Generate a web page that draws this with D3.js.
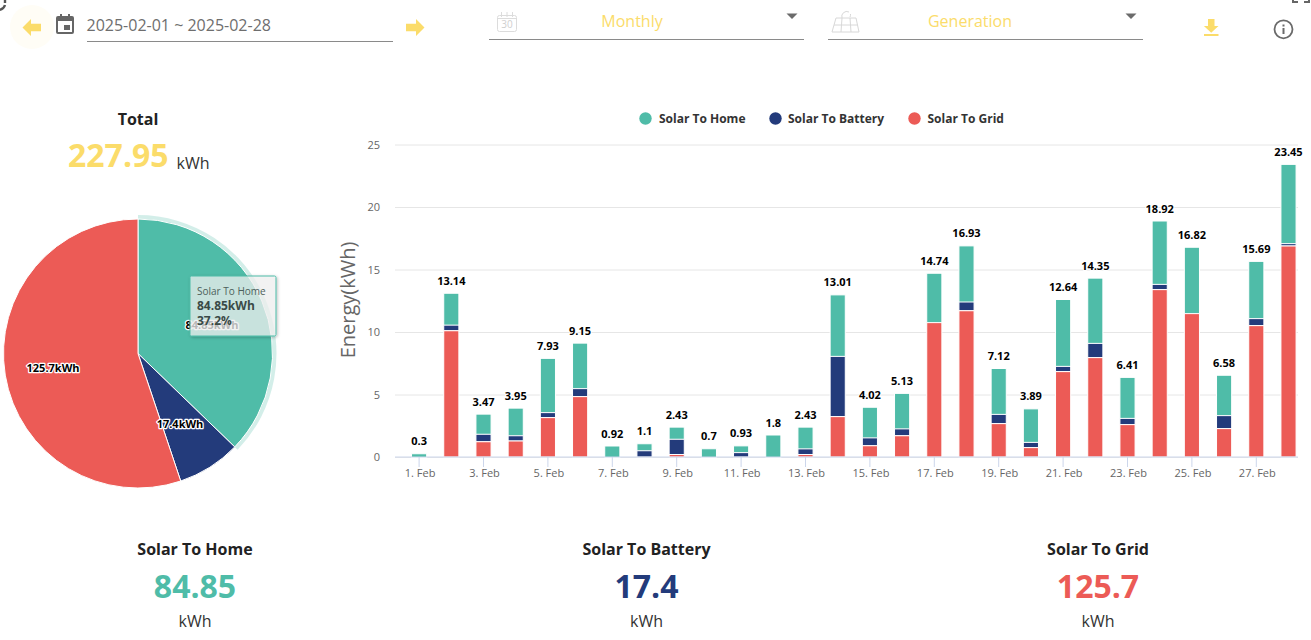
<!DOCTYPE html>
<html><head><meta charset="utf-8">
<script src="https://cdn.jsdelivr.net/npm/d3@7"></script>
<style>html,body{margin:0;padding:0;background:#fff;overflow:hidden}svg{display:block}text{font-family:"Open Sans",sans-serif}</style>
</head><body><svg id="c" width="1311" height="640"></svg>
<script>
const seriesNames = ["Solar To Home","Solar To Battery","Solar To Grid"];
const seriesColors = ["#4fbca8","#233b7b","#ec5b56"];
const seriesTotals = [84.85,17.4,125.7];
const days = d3.range(1,29);
const home = [0.3,2.59,1.65,2.25,4.38,3.68,0.92,0.6,1.01,0.7,0.58,1.8,1.78,4.96,2.49,2.88,3.99,4.53,3.71,2.72,5.39,5.26,3.32,5.11,5.35,3.27,4.62,6.38];
const battery = [0,0.45,0.6,0.42,0.4,0.64,0,0.5,1.22,0,0.35,0,0.45,4.82,0.63,0.55,0,0.7,0.74,0.42,0.42,1.14,0.5,0.42,0,1.04,0.56,0.19];
const grid = [0,10.1,1.22,1.28,3.15,4.83,0,0,0.2,0,0,0,0.2,3.23,0.9,1.7,10.75,11.7,2.67,0.75,6.83,7.95,2.59,13.39,11.47,2.27,10.51,16.88];
const totals = ["0.3","13.14","3.47","3.95","7.93","9.15","0.92","1.1","2.43","0.7","0.93","1.8","2.43","13.01","4.02","5.13","14.74","16.93","7.12","3.89","12.64","14.35","6.41","18.92","16.82","6.58","15.69","23.45"];
const yTicks = [0,5,10,15,20,25];
const xTicks = [1,3,5,7,9,11,13,15,17,19,21,23,25,27];
const YEL = "#fbdc6a";

const svg = d3.select("#c");

/* ---------- top bar ---------- */
const bar = svg.append("g");
bar.append("circle").attr("cx",32).attr("cy",27).attr("r",22).attr("fill","#fffdf6");
const arrow = (x,y,dir,c)=>bar.append("path")
  .attr("transform",`translate(${x},${y}) scale(${dir},1)`)
  .attr("d","M-9.5,0 L-1,-8.5 L-1,-3.7 L9,-3.7 L9,3.7 L-1,3.7 L-1,8.5 Z").attr("fill",c);
arrow(32,27.5,1,YEL); arrow(415,27.5,-1,YEL);
// calendar icon
bar.append("path").attr("fill","#666").attr("fill-rule","evenodd")
  .attr("d","M60,16 h2 v-2 h2 v2 h6 v-2 h2 v2 h2 a2,2 0 0 1 2,2 v14 a2,2 0 0 1 -2,2 h-14 a2,2 0 0 1 -2,-2 v-14 a2,2 0 0 1 2,-2 Z M60,21 v11 h14 v-11 Z M66,25 h6 v5 h-6 Z")
  .attr("transform","translate(-2,0)");
bar.append("text").attr("x",86.5).attr("y",31).attr("font-size",16).attr("fill","#6e6e6e").text("2025-02-01 ~ 2025-02-28");
const rule=(x1,x2,y)=>bar.append("line").attr("x1",x1).attr("x2",x2).attr("y1",y).attr("y2",y).attr("stroke","#8a8a8a").attr("stroke-width",1);
rule(87,393,41.5); rule(489,804,39.5); rule(828,1143,39.5);
bar.append("text").attr("x",632).attr("y",27).attr("text-anchor","middle").attr("font-size",16).attr("fill",YEL).text("Monthly");
bar.append("text").attr("x",970).attr("y",27).attr("text-anchor","middle").attr("font-size",16).attr("fill",YEL).text("Generation");
[[792,16],[1131,16]].forEach(([x,y])=>bar.append("path").attr("d",`M${x-5.5},${y-2.5} h11 l-5.5,5.5 Z`).attr("fill","#6b6b6b"));
// month calendar icon
const cal=bar.append("g").attr("fill","none").attr("stroke","#dcdcdc").attr("stroke-width",1);
cal.append("rect").attr("x",497.5).attr("y",15.5).attr("width",19).attr("height",16).attr("rx",2);
cal.append("path").attr("d","M498,18.5 H516 M501.5,12 v5 M507,12 v5 M512.5,12 v5");
bar.append("text").attr("x",507).attr("y",28).attr("text-anchor","middle").attr("font-size",10).attr("fill","#cfcfcf").text("30");
// solar panel icon
const pan=bar.append("g").attr("fill","none").attr("stroke","#d8d8d8").attr("stroke-width",1);
pan.append("path").attr("d","M836,18 L856,18 L859,32 L832,32 Z M834,25 H858 M842,18 L841,32 M850,18 L851,32 M842,18 a5,5 0 0 1 7,-6 M850,17 a5,5 0 0 0 0.5,-3");
// download
bar.append("path").attr("fill",YEL).attr("d","M1208,19 h6.5 v7 h4 l-7.3,6.8 l-7.3,-6.8 h4.1 Z M1204,34 h14.5 v2 h-14.5 Z");
// info
bar.append("circle").attr("cx",1283.5).attr("cy",29.3).attr("r",9).attr("fill","none").attr("stroke","#6a6a6a").attr("stroke-width",1.8);
bar.append("rect").attr("x",1282.5).attr("y",28).attr("width",2).attr("height",6).attr("fill","#6a6a6a");
bar.append("rect").attr("x",1282.5).attr("y",24.5).attr("width",2).attr("height",2).attr("fill","#6a6a6a");
// clipped icons at corners
bar.append("path").attr("d","M-1,10 a7,7 0 0 0 6,-5 M5,3 v-4").attr("fill","none").attr("stroke","#555").attr("stroke-width",2.4);
bar.append("path").attr("d","M1293,0 v2 h5 M1309,0 v2 h-5").attr("fill","none").attr("stroke","#666").attr("stroke-width",2);

/* ---------- left total + pie ---------- */
svg.append("text").attr("x",138).attr("y",124.5).attr("text-anchor","middle").attr("font-size",16).attr("font-weight",700).attr("fill","#222").text("Total");
svg.append("text").attr("x",68).attr("y",167).attr("font-size",32).attr("font-weight",700).attr("fill",YEL).text("227.95");
svg.append("text").attr("x",176.5).attr("y",169).attr("font-size",16).attr("fill","#333").text("kWh");

const pieG = svg.append("g").attr("transform","translate(138,353.5)");
const arcs = d3.pie().sort(null)(seriesTotals);
const arc = d3.arc().innerRadius(0).outerRadius(134.5);
const halo = d3.arc().innerRadius(134.5).outerRadius(138.5);
pieG.append("path").datum(arcs[0]).attr("d",halo).attr("fill",seriesColors[0]).attr("opacity",.25);
pieG.selectAll("path.s").data(arcs).join("path").attr("class","s").attr("d",arc)
  .attr("fill",(d,i)=>seriesColors[i]).attr("stroke","#fff").attr("stroke-width",1);
const pieLabels=[[74,-29],[42,70],[-85,14]];
arcs.forEach((a,i)=>{
  pieG.append("text").attr("x",pieLabels[i][0]).attr("y",pieLabels[i][1]+4).attr("text-anchor","middle")
    .attr("font-size",11).attr("font-weight",700).attr("fill","#000").attr("stroke","#fff").attr("stroke-width",2.5)
    .attr("stroke-linejoin","round").attr("paint-order","stroke").text(seriesTotals[i]+"kWh");
});

// tooltip
const defs=svg.append("defs");
const f=defs.append("filter").attr("id","sh").attr("x","-20%").attr("y","-20%").attr("width","150%").attr("height","150%");
f.append("feDropShadow").attr("dx",1).attr("dy",1).attr("stdDeviation",1.5).attr("flood-color","#000").attr("flood-opacity",.3);
const tip=svg.append("g").attr("transform","translate(190,276)");
tip.append("rect").attr("x",0).attr("y",0).attr("width",86).attr("height",60).attr("rx",1.5)
  .attr("fill","#f7f7f7").attr("fill-opacity",.7).attr("stroke",seriesColors[0]).attr("stroke-width",1).attr("filter","url(#sh)");
tip.append("text").attr("x",7).attr("y",19).attr("font-size",10).attr("fill","#4d5f5b").text("Solar To Home");
tip.append("text").attr("x",7).attr("y",34).attr("font-size",12).attr("font-weight",700).attr("fill","#3a4a47").text("84.85kWh");
tip.append("text").attr("x",7).attr("y",49).attr("font-size",12).attr("font-weight",700).attr("fill","#3a4a47").text("37.2%");

/* ---------- bar chart ---------- */
const x = d3.scaleBand().domain(days).range([403,1304.6]).paddingInner(0.53).paddingOuter(0.265);
const y = d3.scaleLinear().domain([0,25]).range([457,144.5]);
const chart = svg.append("g");
const gridG = chart.append("g").attr("transform","translate(395,0)")
  .call(d3.axisLeft(y).tickValues(yTicks).tickSize(-903).tickPadding(15));
gridG.select(".domain").remove();
gridG.selectAll(".tick line").attr("stroke","#e6e6e6");
gridG.selectAll(".tick text").attr("font-size",11).attr("fill","#666").attr("font-family","Open Sans");

const stack = days.map((d,i)=>({d,i}));
[[home,0],[battery,1],[grid,2]].forEach(([vals,si])=>{
  chart.append("g").selectAll("rect").data(stack.filter(o=>vals[o.i]>0)).join("rect")
    .attr("x",o=>x(o.d)).attr("width",x.bandwidth())
    .attr("y",o=>{
      const base = si===2?0: si===1? grid[o.i] : grid[o.i]+battery[o.i];
      return y(base+vals[o.i])+(si===0?0.5:0);
    })
    .attr("height",o=>y(0)-y(vals[o.i]))
    .attr("fill",seriesColors[si]).attr("stroke","#fff").attr("stroke-width",1);
});

const axisG = chart.append("g").attr("transform","translate(0,457)")
  .call(d3.axisBottom(x).tickValues(xTicks).tickSize(10).tickSizeOuter(0).tickPadding(2).tickFormat(d=>d+". Feb"));
axisG.select(".domain").remove();
axisG.append("line").attr("x1",395).attr("x2",1298).attr("stroke","#ccd6eb");
axisG.selectAll(".tick line").attr("stroke","#ccd6eb");
axisG.selectAll(".tick text").attr("font-size",11).attr("fill","#666").attr("font-family","Open Sans").attr("dx",1);

chart.append("g").selectAll("text").data(stack).join("text")
  .attr("x",o=>x(o.d)+x.bandwidth()/2)
  .attr("y",o=>y(home[o.i]+battery[o.i]+grid[o.i])-8)
  .attr("text-anchor","middle").attr("font-size",11).attr("font-weight",700).attr("fill","#000")
  .attr("stroke","#fff").attr("stroke-width",2).attr("stroke-linejoin","round").attr("paint-order","stroke")
  .text(o=>totals[o.i]);

chart.append("text").attr("transform","translate(355,300) rotate(-90)").attr("text-anchor","middle")
  .attr("font-size",20).attr("fill","#666").text("Energy(kWh)");

// legend
const legendX=[[645.5,659],[775.5,788],[914.5,927.5]];
seriesNames.forEach((n,i)=>{
  chart.append("circle").attr("cx",legendX[i][0]).attr("cy",118.5).attr("r",6.2).attr("fill",seriesColors[i]);
  chart.append("text").attr("x",legendX[i][1]).attr("y",122.5).attr("font-size",12).attr("font-weight",700).attr("fill","#333").text(n);
});

/* ---------- bottom summaries ---------- */
const cx=[195,646.5,1098];
seriesNames.forEach((n,i)=>{
  const g=svg.append("g").attr("text-anchor","middle");
  g.append("text").attr("x",cx[i]).attr("y",555).attr("font-size",16).attr("font-weight",700).attr("fill","#222").text(n);
  g.append("text").attr("x",cx[i]).attr("y",597.5).attr("font-size",32).attr("font-weight",700).attr("fill",seriesColors[i]).text(seriesTotals[i]);
  g.append("text").attr("x",cx[i]).attr("y",627).attr("font-size",16).attr("fill","#333").text("kWh");
});
</script></body></html>
